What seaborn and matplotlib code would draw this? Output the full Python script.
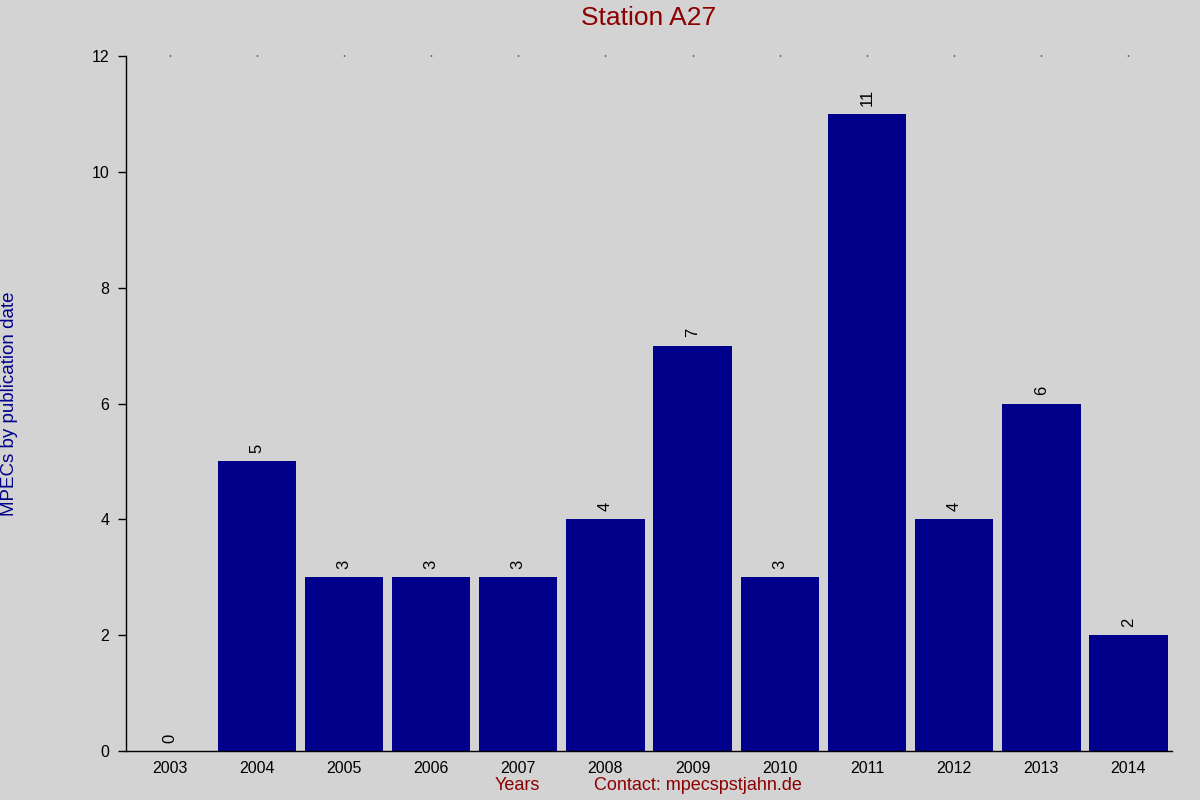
import matplotlib
matplotlib.use("Agg")
import matplotlib.pyplot as plt
import seaborn as sns
import pandas as pd

# MPECs per year for station A27
years = ["2003", "2004", "2005", "2006", "2007", "2008",
         "2009", "2010", "2011", "2012", "2013", "2014"]
counts = [0, 5, 3, 3, 3, 4, 7, 3, 11, 4, 6, 2]
y_ticks = [0, 2, 4, 6, 8, 10, 12]

df = pd.DataFrame({"year": years, "count": counts})

sns.set_style("ticks")
plt.rcParams['font.family'] = ['Liberation Sans', 'DejaVu Sans']

bg = '#d3d3d3'
fig = plt.figure(figsize=(12, 8), dpi=100, facecolor=bg)
ax = fig.add_axes([0.105, 0.06125, 0.8717, 0.86875])
ax.set_facecolor(bg)

sns.barplot(data=df, x="year", y="count", color='#00008b', saturation=1,
            width=0.9, edgecolor='none', linewidth=0, ax=ax)

ax.bar_label(ax.containers[0], rotation=90, padding=6, fontsize=12, color='black')

ax.set_xlim(-0.5, 11.5)
ax.set_ylim(0, 12)
ax.set_yticks(y_ticks)
ax.set_xlabel("")
ax.set_ylabel("")

for s in ['top', 'right']:
    ax.spines[s].set_visible(False)
for s in ['left', 'bottom']:
    ax.spines[s].set_color('black')
    ax.spines[s].set_linewidth(1)

ax.tick_params(axis='y', length=6, width=1, color='black', labelcolor='black',
               labelsize=11.5, pad=6)
ax.tick_params(axis='x', bottom=False, top=True, length=1, width=1, color='black',
               labelcolor='black', labelsize=11.5, pad=6,
               labeltop=False, labelbottom=True)

fig.text(649 / 1200, 1 - 18 / 800, "Station A27", color='#8b0000',
         fontsize=19, ha='center', va='center')
fig.text(10 / 1200, 0.495, "MPECs by publication date", color='#00008b',
         fontsize=13.5, rotation=90, ha='center', va='center')
fig.text(517 / 1200, 1 - 786 / 800, "Years", color='#8b0000',
         fontsize=13, ha='center', va='center')
fig.text(698 / 1200, 1 - 786 / 800, "Contact: mpecspstjahn.de", color='#8b0000',
         fontsize=13, ha='center', va='center')

fig.savefig("out.png", dpi=100, facecolor=bg)
